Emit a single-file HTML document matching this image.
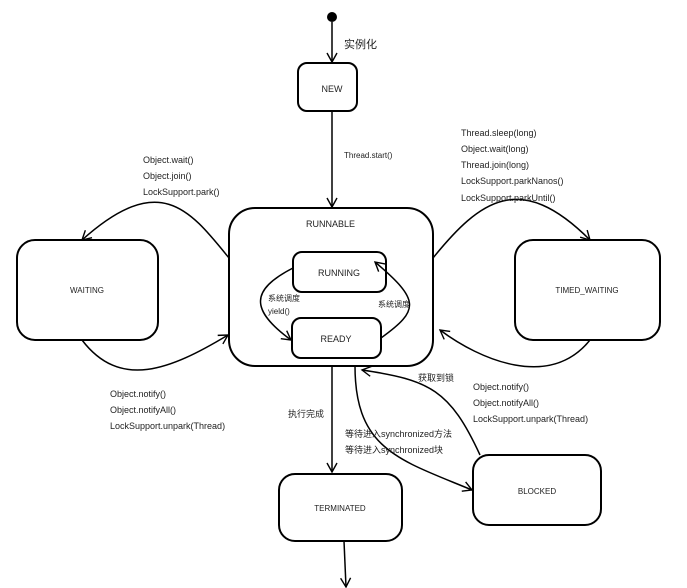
<!DOCTYPE html>
<html><head><meta charset="utf-8"><style>
html,body{margin:0;padding:0;background:#fff;width:687px;height:588px;overflow:hidden}
text{font-family:"Liberation Sans","Noto Sans CJK SC",sans-serif;fill:#222}
</style></head><body>
<svg width="687" height="588" viewBox="0 0 687 588" xmlns="http://www.w3.org/2000/svg">
<defs><marker id="a" markerWidth="12" markerHeight="12" refX="10" refY="6" orient="auto" markerUnits="userSpaceOnUse"><path d="M1,1 L10,6 L1,11" fill="none" stroke="#000" stroke-width="1.4"/></marker></defs>
<g fill="none" stroke="#000" stroke-width="2">
<rect x="298" y="63" width="59" height="48" rx="9"/>
<rect x="229" y="208" width="204" height="158" rx="26"/>
<rect x="293" y="252" width="93" height="40" rx="9"/>
<rect x="292" y="318" width="89" height="40" rx="9"/>
<rect x="17" y="240" width="141" height="100" rx="18"/>
<rect x="515" y="240" width="145" height="100" rx="18"/>
<rect x="279" y="474" width="123" height="67" rx="16"/>
<rect x="473" y="455" width="128" height="70" rx="16"/>
</g>
<circle cx="332" cy="17" r="5" fill="#000"/>
<g fill="none" stroke="#000" stroke-width="1.5" marker-end="url(#a)">
<path d="M332,22 L332,62"/>
<path d="M332,111 L332,207"/>
<path d="M229,258 C190,210 160,170 82,240"/>
<path d="M82,340 C120,390 170,370 228,335"/>
<path d="M433,258 C480,200 520,170 590,240"/>
<path d="M590,340 C550,390 480,360 440,330"/>
<path d="M293,268 C250,290 250,310 291,340"/>
<path d="M381,338 C420,310 420,300 375,262"/>
<path d="M332,366 L332,472"/>
<path d="M355,366 C355,450 400,460 472,490"/>
<path d="M480,455 C450,390 430,380 362,370"/>
<path d="M344,541 L346,587"/>
</g>
<g font-size="9">
<text x="344" y="48" font-size="11">实例化</text>
<text x="332" y="92" text-anchor="middle">NEW</text>
<text x="344" y="158" font-size="8">Thread.start()</text>
<text x="306" y="227">RUNNABLE</text>
<text x="339" y="276" text-anchor="middle">RUNNING</text>
<text x="336" y="342" text-anchor="middle">READY</text>
<text x="268" y="301" font-size="8">系统调度</text>
<text x="268" y="314" font-size="8">yield()</text>
<text x="378" y="307" font-size="8">系统调度</text>
<text x="87" y="293" text-anchor="middle" font-size="8">WAITING</text>
<text x="587" y="293" text-anchor="middle" font-size="8">TIMED_WAITING</text>
<text x="340" y="511" text-anchor="middle" font-size="8">TERMINATED</text>
<text x="537" y="494" text-anchor="middle" font-size="8">BLOCKED</text>
<text x="143" y="163">Object.wait()</text>
<text x="143" y="179">Object.join()</text>
<text x="143" y="195">LockSupport.park()</text>
<text x="461" y="136">Thread.sleep(long)</text>
<text x="461" y="152">Object.wait(long)</text>
<text x="461" y="168">Thread.join(long)</text>
<text x="461" y="184">LockSupport.parkNanos()</text>
<text x="461" y="201">LockSupport.parkUntil()</text>
<text x="110" y="397">Object.notify()</text>
<text x="110" y="413">Object.notifyAll()</text>
<text x="110" y="429">LockSupport.unpark(Thread)</text>
<text x="473" y="390">Object.notify()</text>
<text x="473" y="406">Object.notifyAll()</text>
<text x="473" y="422">LockSupport.unpark(Thread)</text>
<text x="418" y="381">获取到锁</text>
<text x="288" y="417">执行完成</text>
<text x="345" y="437">等待进入synchronized方法</text>
<text x="345" y="453">等待进入synchronized块</text>
</g>
</svg>
</body></html>
